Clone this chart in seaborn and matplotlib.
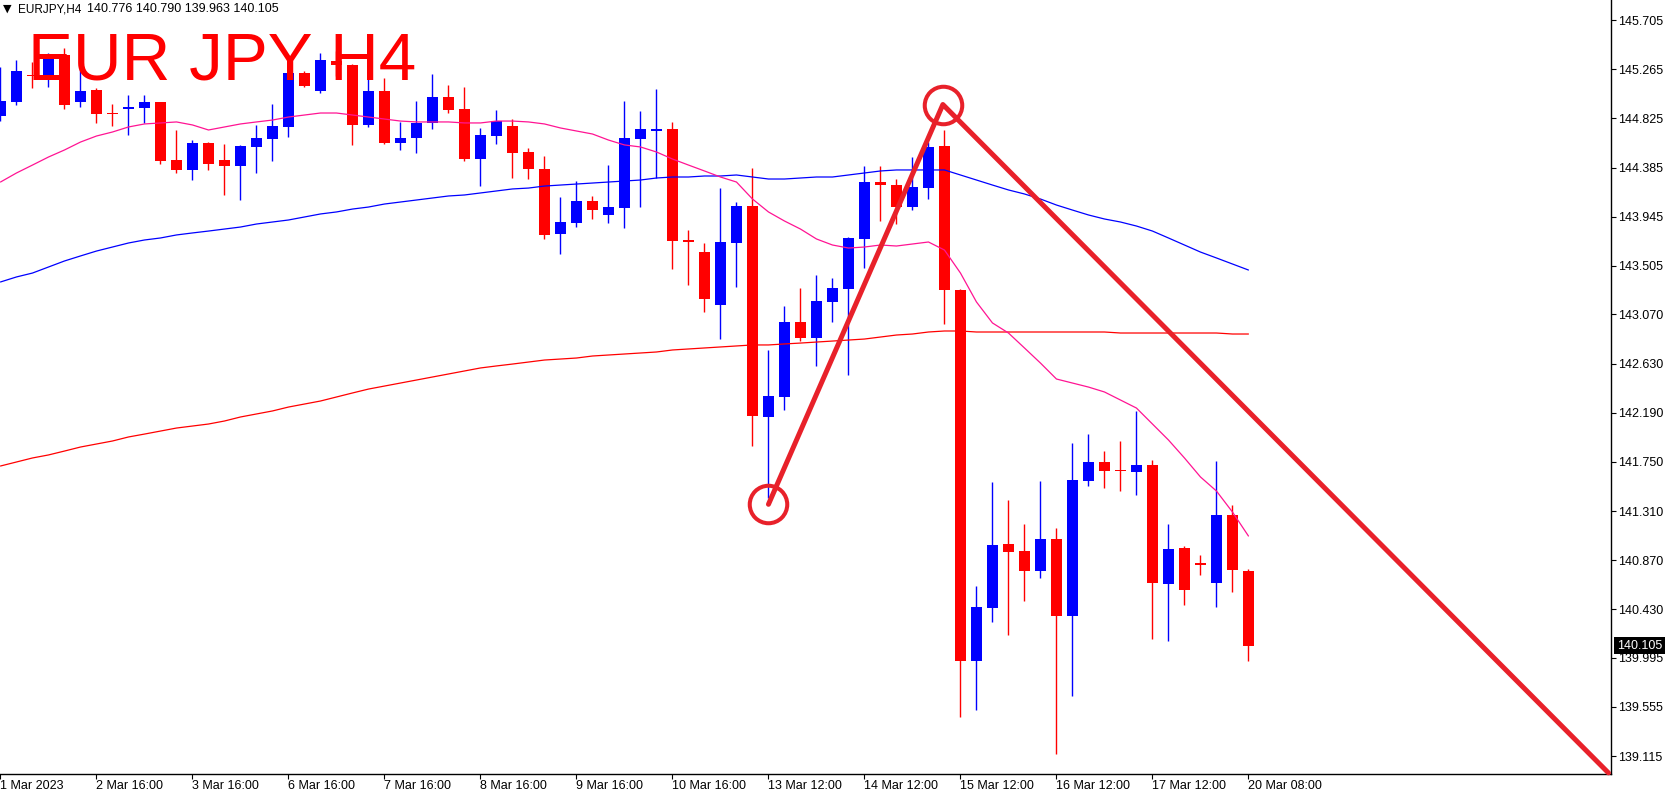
import numpy as np
import pandas as pd
import matplotlib
matplotlib.use("Agg")
import matplotlib.pyplot as plt
import seaborn as sns
from matplotlib.transforms import blended_transform_factory

# ---------------- data (EURJPY H4) ----------------
opens = [144.847, 144.973, 145.210, 145.188, 145.393, 144.973, 145.080, 144.870, 144.910, 144.919,
         144.973, 144.453, 144.364, 144.605, 144.453, 144.399, 144.570, 144.641, 144.749, 145.232,
         145.071, 145.340, 145.304, 144.767, 145.071, 144.605, 144.650, 144.785, 145.017, 144.910,
         144.462, 144.668, 144.758, 144.525, 144.373, 143.791, 143.889, 144.086, 143.961, 144.023,
         144.641, 144.713, 144.731, 143.732, 143.629, 143.155, 143.710, 144.041, 142.152, 142.331,
         143.002, 142.859, 143.182, 143.298, 143.746, 144.256, 144.229, 144.032, 144.202, 144.579,
         143.289, 139.967, 140.441, 141.014, 140.952, 140.773, 141.059, 140.370, 141.579, 141.749,
         141.673, 141.659, 141.722, 140.656, 140.979, 140.840, 140.665, 141.274, 140.776]
highs = [145.286, 145.349, 145.331, 145.411, 145.456, 145.313, 145.098, 144.955, 145.035, 145.035,
         144.975, 144.722, 144.632, 144.614, 144.596, 144.588, 144.767, 144.955, 145.376, 145.250,
         145.411, 145.429, 145.310, 145.286, 145.187, 144.793, 144.982, 145.223, 145.125, 145.107,
         144.740, 144.901, 144.820, 144.561, 144.489, 144.122, 144.265, 144.131, 144.408, 144.982,
         144.892, 145.089, 144.793, 143.826, 143.710, 144.202, 144.077, 144.382, 142.752, 143.146,
         143.307, 143.423, 143.396, 143.764, 144.399, 144.399, 144.283, 144.480, 144.614, 144.722,
         143.298, 140.638, 141.570, 141.409, 141.194, 141.579, 141.158, 141.919, 141.999, 141.847,
         141.937, 142.206, 141.767, 141.194, 140.997, 140.916, 141.758, 141.364, 140.790]
lows = [144.802, 144.946, 145.098, 145.107, 144.910, 144.928, 144.785, 144.758, 144.677, 144.785,
        144.417, 144.337, 144.274, 144.364, 144.140, 144.095, 144.337, 144.444, 144.659, 145.107,
        145.053, 145.205, 144.588, 144.749, 144.596, 144.543, 144.516, 144.731, 144.874, 144.444,
        144.220, 144.596, 144.292, 144.283, 143.746, 143.611, 143.853, 143.925, 143.889, 143.844,
        144.032, 144.292, 143.477, 143.334, 143.092, 142.850, 143.316, 141.892, 141.426, 142.214,
        142.832, 142.608, 143.002, 142.528, 143.486, 143.907, 143.880, 144.005, 144.104, 142.985,
        139.465, 139.528, 140.316, 140.200, 140.504, 140.710, 139.134, 139.653, 141.534, 141.516,
        141.489, 141.453, 140.164, 140.146, 140.468, 140.737, 140.450, 140.585, 139.963]
closes = [144.982, 145.250, 145.201, 145.385, 144.946, 145.071, 144.865, 144.861, 144.928, 144.973,
          144.444, 144.364, 144.605, 144.417, 144.399, 144.579, 144.650, 144.758, 145.232, 145.116,
          145.349, 145.304, 144.767, 145.071, 144.605, 144.650, 144.785, 145.017, 144.901, 144.462,
          144.677, 144.802, 144.516, 144.373, 143.782, 143.898, 144.086, 144.005, 144.032, 144.650,
          144.731, 144.731, 143.728, 143.723, 143.208, 143.719, 144.041, 142.161, 142.340, 143.002,
          142.859, 143.191, 143.307, 143.755, 144.256, 144.229, 144.032, 144.211, 144.570, 143.289,
          139.967, 140.450, 141.005, 140.943, 140.773, 141.059, 140.370, 141.588, 141.749, 141.668,
          141.664, 141.722, 140.665, 140.970, 140.603, 140.831, 141.274, 140.782, 140.105]

ma_fast = [144.256, 144.337, 144.408, 144.480, 144.543, 144.614, 144.668, 144.704, 144.749, 144.776,
           144.785, 144.794, 144.767, 144.722, 144.749, 144.776, 144.794, 144.811, 144.838, 144.856,
           144.874, 144.874, 144.856, 144.838, 144.820, 144.802, 144.794, 144.794, 144.794, 144.785,
           144.785, 144.802, 144.802, 144.794, 144.776, 144.740, 144.713, 144.686, 144.632, 144.588,
           144.570, 144.525, 144.462, 144.408, 144.355, 144.301, 144.256, 144.104, 143.988, 143.907,
           143.835, 143.746, 143.692, 143.665, 143.674, 143.692, 143.683, 143.701, 143.719, 143.647,
           143.441, 143.182, 142.994, 142.904, 142.770, 142.635, 142.492, 142.456, 142.420, 142.376,
           142.304, 142.232, 142.089, 141.946, 141.785, 141.615, 141.489, 141.301, 141.086]
ma_mid = [143.361, 143.406, 143.441, 143.495, 143.549, 143.594, 143.638, 143.674, 143.710, 143.737,
          143.755, 143.782, 143.800, 143.817, 143.835, 143.853, 143.880, 143.898, 143.916, 143.943,
          143.970, 143.988, 144.014, 144.032, 144.059, 144.077, 144.095, 144.113, 144.131, 144.140,
          144.158, 144.176, 144.194, 144.202, 144.220, 144.229, 144.238, 144.247, 144.256, 144.265,
          144.274, 144.292, 144.301, 144.301, 144.310, 144.310, 144.319, 144.301, 144.283, 144.283,
          144.292, 144.301, 144.301, 144.319, 144.337, 144.355, 144.364, 144.364, 144.364, 144.364,
          144.319, 144.274, 144.229, 144.185, 144.149, 144.104, 144.050, 144.005, 143.961, 143.925,
          143.898, 143.862, 143.817, 143.755, 143.692, 143.629, 143.576, 143.522, 143.468]
ma_slow = [141.713, 141.749, 141.785, 141.812, 141.847, 141.883, 141.910, 141.937, 141.973, 141.999,
           142.026, 142.053, 142.071, 142.089, 142.116, 142.152, 142.179, 142.206, 142.241, 142.268,
           142.295, 142.331, 142.367, 142.402, 142.429, 142.456, 142.483, 142.510, 142.537, 142.564,
           142.591, 142.609, 142.626, 142.644, 142.662, 142.671, 142.680, 142.698, 142.707, 142.716,
           142.725, 142.734, 142.752, 142.761, 142.770, 142.779, 142.788, 142.797, 142.797, 142.806,
           142.814, 142.823, 142.832, 142.841, 142.850, 142.868, 142.886, 142.895, 142.913, 142.922,
           142.922, 142.913, 142.913, 142.913, 142.913, 142.913, 142.913, 142.913, 142.913, 142.913,
           142.904, 142.904, 142.904, 142.904, 142.904, 142.904, 142.904, 142.895, 142.895]

x_tick_bars = [0, 6, 12, 18, 24, 30, 36, 42, 48, 54, 60, 66, 72, 78]
x_tick_labels = ["1 Mar 2023", "2 Mar 16:00", "3 Mar 16:00", "6 Mar 16:00", "7 Mar 16:00",
                 "8 Mar 16:00", "9 Mar 16:00", "10 Mar 16:00", "13 Mar 12:00", "14 Mar 12:00",
                 "15 Mar 12:00", "16 Mar 12:00", "17 Mar 12:00", "20 Mar 08:00"]
y_ticks = [145.705, 145.265, 144.825, 144.385, 143.945, 143.505, 143.070, 142.630,
           142.190, 141.750, 141.310, 140.870, 140.430, 139.995, 139.555, 139.115]

last_price = 140.105
header_symbol = "EURJPY,H4"
header_values = "140.776 140.790 139.963 140.105"
title_text = "EUR JPY H4"

# drawn pattern: low circle, high circle, projected end
trend_bars = [48.0, 58.9, 100.5]
trend_prices = [141.37, 144.95, 138.965]

# ---------------- figure ----------------
sns.set_theme(style="white")
plt.rcParams["font.family"] = ["Liberation Sans", "DejaVu Sans"]

W, H = 1670, 797
fig = plt.figure(figsize=(W / 100, H / 100), dpi=100)
fig.patch.set_facecolor("white")
ax = fig.add_axes([0, 23 / H, 1611 / W, 774 / H])
ax.set_facecolor("white")

o = np.array(opens); c = np.array(closes)
hi = np.array(highs); lo = np.array(lows)
xb = np.arange(len(o))
bull = c >= o
cols = np.where(bull, "#0000FF", "#FF0000")

# wicks
ax.vlines(xb, lo, hi, colors=cols, lw=1.0, zorder=2)
# bodies
body_bottom = np.minimum(o, c)
body_h = np.maximum(np.abs(c - o), 0.012)
ax.bar(xb, body_h, bottom=body_bottom, width=0.69, color=cols, lw=0, zorder=3)

# moving averages via seaborn
df = pd.DataFrame({
    "bar": np.concatenate([xb, xb, xb]),
    "price": np.concatenate([ma_slow, ma_mid, ma_fast]),
    "ma": ["slow"] * len(xb) + ["mid"] * len(xb) + ["fast"] * len(xb),
})
sns.lineplot(data=df, x="bar", y="price", hue="ma",
             palette={"slow": "#FF0000", "mid": "#0000FF", "fast": "#FF1493"},
             estimator=None, sort=False, lw=0.9, legend=False, ax=ax, zorder=4)

# trend lines and circles
ax.plot(trend_bars, trend_prices, color="#E8212A", lw=3.6, solid_capstyle="round",
        solid_joinstyle="round", zorder=6, clip_on=False)
ax.plot(trend_bars[:2], trend_prices[:2], "o", ms=27, mfc="none", mec="#E8212A",
        mew=2.9, zorder=7, clip_on=False)

# axes limits
ax.set_xlim(-0.031, 100.66)
ax.set_ylim(138.955, 145.886)
ax.set_xlabel("")
ax.set_ylabel("")

# spines
for s in ["left", "top"]:
    ax.spines[s].set_visible(False)
for s in ["right", "bottom"]:
    ax.spines[s].set_visible(True)
    ax.spines[s].set_color("black")
    ax.spines[s].set_linewidth(1.0)

# ticks
ax.yaxis.tick_right()
ax.set_yticks(y_ticks)
ax.set_yticklabels([f"{v:.3f}" for v in y_ticks])
ax.tick_params(axis="y", which="both", left=False, right=True, direction="out",
               length=3.6, width=0.8, pad=1.5, labelsize=9, colors="black")
ax.set_xticks(x_tick_bars)
ax.set_xticklabels(x_tick_labels)
ax.tick_params(axis="x", which="both", bottom=True, direction="out",
               length=3.6, width=0.8, pad=1.0, labelsize=9, colors="black")
for lab in ax.get_xticklabels():
    lab.set_horizontalalignment("left")
ax.grid(False)

# current price box
tr = blended_transform_factory(ax.transAxes, ax.transData)
ax.text(1.0035, last_price, f"{last_price:.3f}", transform=tr, color="white",
        fontsize=9, va="center", ha="left", clip_on=False, zorder=10,
        bbox=dict(boxstyle="square,pad=0.22", fc="black", ec="none"))

# header
fig.text(3 / W, 1 - 9 / H, "\u25BC", fontsize=8, family="DejaVu Sans",
         va="center", ha="left", color="black")
fig.text(18 / W, 1 - 9 / H, header_symbol, fontsize=8.5, va="center", ha="left", color="black")
fig.text(87 / W, 1 - 9 / H, header_values, fontsize=9, va="center", ha="left", color="black")

# big title
fig.text(28 / W, 1 - 80 / H, title_text, fontsize=48.5, color="#FF0000",
         va="baseline", ha="left", zorder=20)

fig.savefig("out.png", dpi=100)
